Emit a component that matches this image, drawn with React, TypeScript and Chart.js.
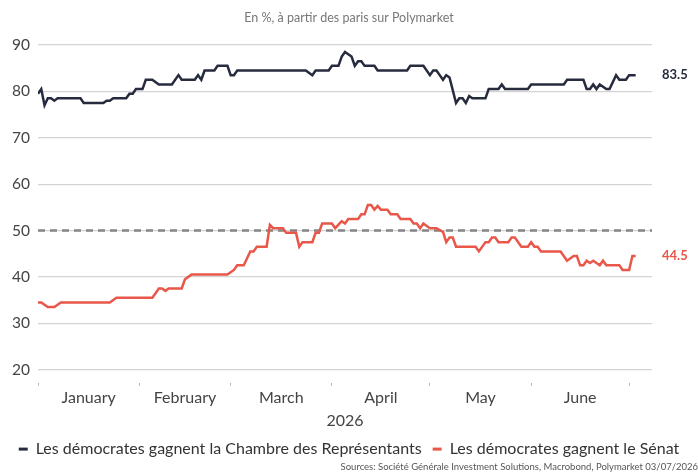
import { useEffect, useRef } from "react";
import { Chart, registerables } from "chart.js";

Chart.register(...registerables);

// Day index: 0 = 1 January 2026
const houseDays = [0, 1, 2, 3, 4, 5, 6, 13, 14, 20, 21, 22, 23, 27, 28, 29, 30, 32, 33, 35, 37, 41, 43, 44, 48, 49, 50, 51, 54, 55, 58, 59, 60, 61, 82, 84, 85, 89, 90, 92, 93, 94, 95, 96, 97, 98, 99, 100, 103, 104, 113, 114, 118, 120, 121, 122, 123, 124, 125, 126, 128, 129, 130, 131, 132, 133, 137, 138, 141, 142, 143, 150, 151, 161, 162, 167, 168, 169, 170, 171, 172, 174, 175, 177, 178, 180, 181, 183];
const houseValues = [79.5, 80.5, 77, 78.5, 78.5, 78, 78.5, 78.5, 77.5, 77.5, 78, 78, 78.5, 78.5, 79.5, 79.5, 80.5, 80.5, 82.5, 82.5, 81.5, 81.5, 83.5, 82.5, 82.5, 83.5, 82.5, 84.5, 84.5, 85.5, 85.5, 83.5, 83.5, 84.5, 84.5, 83.5, 84.5, 84.5, 85.5, 85.5, 87.5, 88.5, 88, 87.5, 85.5, 86.5, 86.5, 85.5, 85.5, 84.5, 84.5, 85.5, 85.5, 83.5, 84.5, 84.5, 83.5, 82.5, 83.5, 83, 77.5, 78.5, 78.5, 77.5, 79, 78.5, 78.5, 80.5, 80.5, 81.5, 80.5, 80.5, 81.5, 81.5, 82.5, 82.5, 80.5, 80.5, 81.5, 80.5, 81.5, 80.5, 80.5, 83.5, 82.5, 82.5, 83.5, 83.5];

const senateDays = [0, 1, 3, 5, 7, 22, 24, 35, 36, 37, 38, 39, 40, 44, 45, 47, 58, 60, 61, 63, 65, 66, 67, 70, 71, 72, 75, 76, 79, 80, 81, 84, 85, 86, 87, 90, 91, 93, 94, 95, 98, 99, 100, 101, 102, 103, 104, 105, 107, 108, 110, 111, 114, 115, 116, 117, 118, 120, 122, 124, 125, 126, 127, 128, 134, 135, 137, 138, 139, 140, 141, 144, 145, 146, 148, 150, 151, 152, 153, 154, 160, 162, 164, 165, 166, 167, 168, 169, 170, 171, 172, 173, 174, 178, 179, 181, 182, 183];
const senateValues = [34.5, 34.5, 33.5, 33.5, 34.5, 34.5, 35.5, 35.5, 36.5, 37.5, 37.5, 37, 37.5, 37.5, 39.5, 40.5, 40.5, 41.5, 42.5, 42.5, 45.5, 45.5, 46.5, 46.5, 51.2, 50.5, 50.5, 49.5, 49.5, 46.5, 47.5, 47.5, 49.5, 49.5, 51.5, 51.5, 50.5, 52, 51.5, 52.5, 52.5, 53.5, 53.5, 55.5, 55.5, 54.5, 55.3, 54.5, 54.5, 53.5, 53.5, 52.5, 52.5, 51.5, 51.5, 50.5, 51.5, 50.5, 50.5, 49.7, 47.5, 48.5, 48.5, 46.5, 46.5, 45.5, 47.5, 47.5, 48.5, 48.5, 47.5, 47.5, 48.5, 48.5, 46.5, 46.5, 47.5, 46.5, 46.5, 45.5, 45.5, 43.5, 44.5, 44.5, 42.5, 42.5, 43.5, 43, 43.5, 43, 42.5, 43.5, 42.5, 42.5, 41.5, 41.5, 44.5, 44.5];

const monthNames = ["January", "February", "March", "April", "May", "June"];
const monthStarts = [0, 31, 59, 90, 120, 151, 181];
const yearLabel = "2026";
const xMin = 0;
const xMax = 188;
const yMin = 20;
const yMax = 90;
const yStep = 10;
const thresholdValue = 50;

const houseLabel = "Les démocrates gagnent la Chambre des Représentants";
const senateLabel = "Les démocrates gagnent le Sénat";
const titleText = "En %, à partir des paris sur Polymarket";
const sourceText = "Sources: Société Générale Investment Solutions, Macrobond, Polymarket 03/07/2026";

const NAVY = "#262b3e";
const RED = "#e8574a";
const FONT = "Lato, 'Source Sans Pro', 'Open Sans', sans-serif";

export default function App() {
  const ref = useRef<HTMLCanvasElement | null>(null);

  useEffect(() => {
    if (!ref.current) return;
    const houseData = houseDays.map((d, i) => ({ x: d, y: houseValues[i] }));
    const senateData = senateDays.map((d, i) => ({ x: d, y: senateValues[i] }));
    const lastHouse = houseValues[houseValues.length - 1];
    const lastSenate = senateValues[senateValues.length - 1];
    const monthMids = monthNames.map((_, i) => (monthStarts[i] + monthStarts[i + 1]) / 2);

    const chart = new Chart(ref.current, {
      type: "line",
      data: {
        datasets: [
          {
            label: houseLabel,
            data: houseData,
            borderColor: NAVY,
            backgroundColor: NAVY,
            borderWidth: 2.5,
            pointRadius: 0,
            tension: 0,
            xAxisID: "x",
            yAxisID: "y",
          },
          {
            label: senateLabel,
            data: senateData,
            borderColor: RED,
            backgroundColor: RED,
            borderWidth: 2.5,
            pointRadius: 0,
            tension: 0,
            xAxisID: "x",
            yAxisID: "y",
          },
          {
            label: "seuil",
            data: [
              { x: xMin, y: thresholdValue },
              { x: xMax, y: thresholdValue },
            ],
            borderColor: "#858585",
            backgroundColor: "#858585",
            borderWidth: 2.5,
            borderDash: [7, 5],
            pointRadius: 0,
            xAxisID: "x",
            yAxisID: "y",
            order: 5,
          },
        ],
      },
      options: {
        responsive: false,
        animation: false,
        events: [],
        layout: { padding: { left: 0, right: 0, top: 0, bottom: 0 } },
        scales: {
          x: {
            type: "linear",
            position: "bottom",
            min: xMin,
            max: xMax,
            afterBuildTicks: (axis: any) => {
              axis.ticks = monthStarts.map((v) => ({ value: v }));
            },
            ticks: { display: false },
            border: { display: false },
            grid: {
              display: true,
              drawOnChartArea: false,
              drawTicks: true,
              tickLength: 16,
              tickColor: "#b5b5b5",
              tickWidth: 1,
              tickBorderDash: [0, 13, 3, 40],
            },
          },
          x2: {
            type: "linear",
            position: "bottom",
            min: xMin,
            max: xMax,
            afterBuildTicks: (axis: any) => {
              axis.ticks = monthMids.map((v) => ({ value: v }));
            },
            ticks: {
              autoSkip: false,
              maxRotation: 0,
              padding: 3,
              color: "#444",
              font: { family: FONT, size: 16 },
              callback: (_v: any, i: number) => monthNames[i],
            },
            border: { display: false },
            grid: { display: false, drawTicks: false },
            title: {
              display: true,
              text: yearLabel,
              color: "#444",
              font: { family: FONT, size: 16 },
              padding: { top: 0, bottom: 0 },
            },
          },
          y: {
            type: "linear",
            position: "left",
            min: yMin,
            max: yMax,
            afterFit: (scale: any) => {
              scale.width = 38;
            },
            ticks: {
              stepSize: yStep,
              padding: 8,
              color: "#444",
              font: { family: FONT, size: 15.5 },
            },
            border: { display: false },
            grid: { color: "#d4d4d4", lineWidth: 1.2, drawTicks: false },
          },
          y2: {
            type: "linear",
            position: "right",
            min: yMin,
            max: yMax,
            afterFit: (scale: any) => {
              scale.width = 46;
            },
            afterBuildTicks: (axis: any) => {
              axis.ticks = [lastSenate, lastHouse].map((v) => ({ value: v }));
            },
            ticks: {
              padding: 10,
              color: (ctx: any) => (ctx.tick && ctx.tick.value === lastHouse ? NAVY : RED),
              font: { family: FONT, size: 13, weight: "bold" },
              callback: (v: any) => Number(v).toFixed(1),
            },
            border: { display: false },
            grid: { display: false, drawTicks: false },
          },
        },
        plugins: {
          tooltip: { enabled: false },
          title: {
            display: true,
            text: titleText,
            color: "#777",
            font: { family: FONT, size: 12.5, weight: "normal" },
            padding: { top: 10, bottom: 20 },
          },
          subtitle: {
            display: true,
            text: sourceText,
            position: "bottom",
            align: "end",
            color: "#555",
            font: { family: FONT, size: 9.5, weight: "normal" },
            padding: { top: -6, bottom: 1.5 },
          },
          legend: {
            display: true,
            position: "bottom",
            labels: {
              color: "#333",
              font: { family: FONT, size: 16 },
              boxWidth: 9,
              boxHeight: 3,
              padding: 11,
              filter: (item: any) => item.datasetIndex < 2,
              generateLabels: (c: any) => {
                const items = (Chart.defaults.plugins.legend.labels as any).generateLabels(c);
                return items.map((it: any) => ({ ...it, lineWidth: 0 }));
              },
            },
          },
        },
      },
    });
    return () => chart.destroy();
  }, []);

  return (
    <div style={{ position: "fixed", left: 0, top: 0, width: 698, height: 474, background: "#fff" }}>
      <canvas ref={ref} width={698} height={474} style={{ display: "block", width: 698, height: 474 }} />
    </div>
  );
}
